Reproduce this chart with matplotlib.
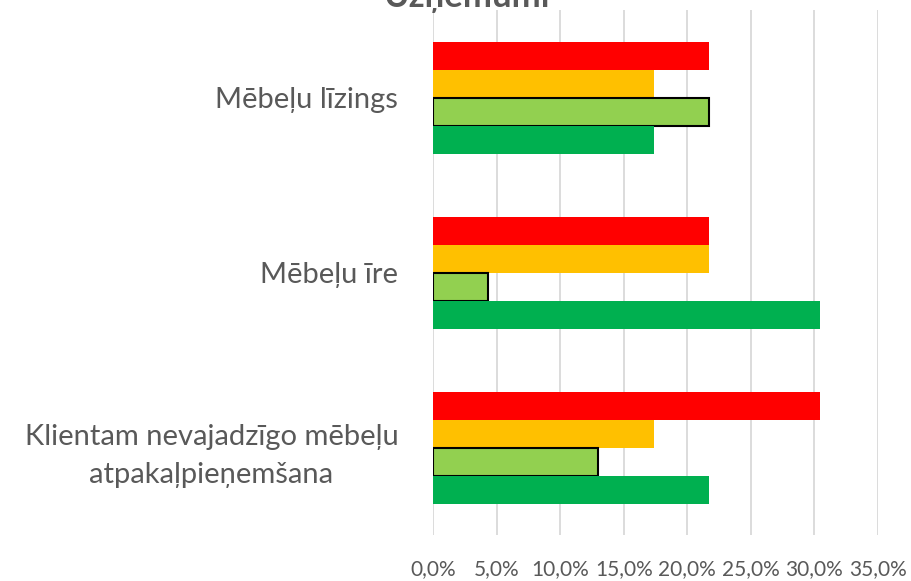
import matplotlib.pyplot as plt
import numpy as np
from matplotlib.ticker import FuncFormatter

plt.rcParams["font.family"] = ["Lato", "DejaVu Sans"]

categories = ["Mēbeļu līzings", "Mēbeļu īre", "Klientam nevajadzīgo mēbeļu\natpakaļpieņemšana"]
red_vals = [21.7, 21.7, 30.4]
orange_vals = [17.4, 21.7, 17.4]
lightgreen_vals = [21.7, 4.3, 13.0]
green_vals = [17.4, 30.4, 21.7]
xticks = [0, 5, 10, 15, 20, 25, 30, 35]

series = [
    (red_vals, "#FF0000", "none"),
    (orange_vals, "#FFC000", "none"),
    (lightgreen_vals, "#92D050", "black"),
    (green_vals, "#00B050", "none"),
]

fig = plt.figure(figsize=(9.12, 5.81), dpi=100)
ax = fig.add_axes([433 / 912, 1 - 535 / 581, (878 - 433) / 912, 525 / 581])

y = np.arange(len(categories))
h = 0.16
for k, (vals, col, ec) in enumerate(series):
    off = (k - 1.5) * h
    ax.barh(y + off, vals, height=h, color=col, edgecolor=ec,
            linewidth=1.5 if ec != "none" else 0, zorder=3)

ax.set_ylim(2.5, -0.5)
ax.set_xlim(0, 35)
ax.set_xticks(xticks)
ax.xaxis.set_major_formatter(FuncFormatter(lambda v, p: f"{v:.1f}%".replace(".", ",")))
ax.set_yticks(y)
ax.set_yticklabels(categories, fontsize=21, color="#595959", multialignment="center",
                   linespacing=1.55)
ax.tick_params(axis="y", length=0, pad=25)
ax.tick_params(axis="x", length=0, pad=17, labelsize=15, labelcolor="#595959")
ax.xaxis.grid(True, color="#D9D9D9", linewidth=1.3, zorder=0)
for s in ax.spines.values():
    s.set_visible(False)

fig.text(467 / 912, 1.005, "Uzņēmumi", ha="center", va="center", fontsize=25,
         fontweight="bold", color="#595959")

fig.savefig("out.png", dpi=100, facecolor="white")
